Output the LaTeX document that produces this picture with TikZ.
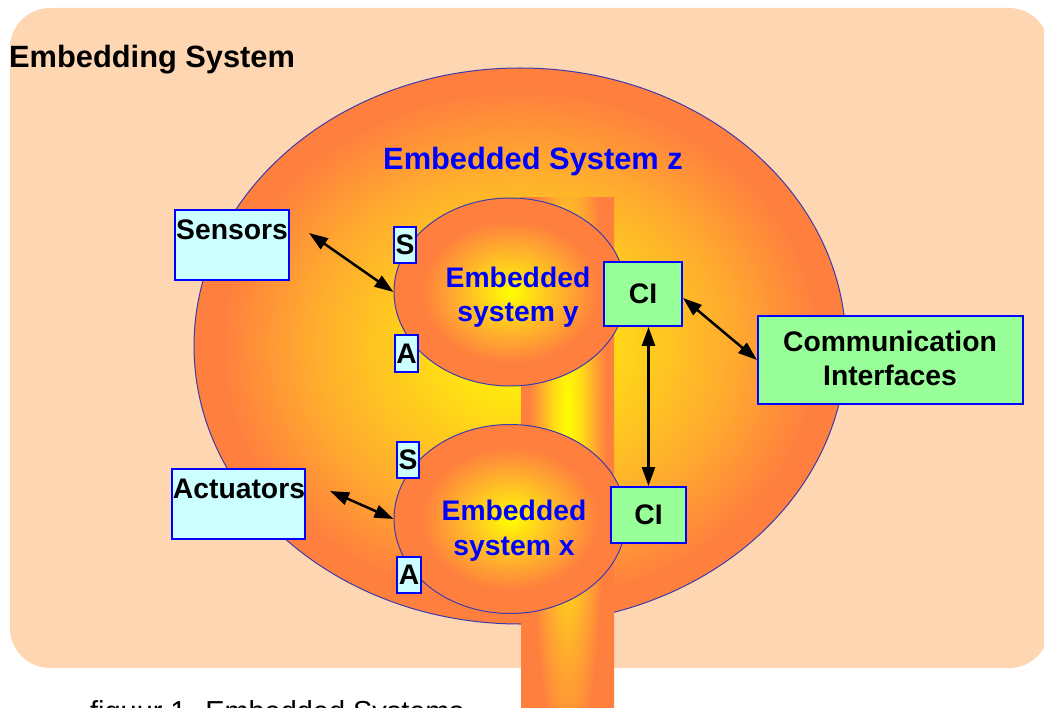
\documentclass[tikz,border=0pt]{standalone}
\usepackage{fontspec}
\setmainfont{Liberation Sans}
\usetikzlibrary{arrows.meta,shapes.geometric}

\definecolor{peach}{RGB}{254,214,178}
\definecolor{hotorange}{RGB}{255,127,62}
\definecolor{midorange}{RGB}{255,172,46}
\definecolor{lightorange}{RGB}{255,212,26}
\definecolor{brightyellow}{RGB}{255,255,0}
\definecolor{rimblue}{RGB}{60,60,170}
\definecolor{boxblue}{RGB}{0,0,255}
\definecolor{paleCyan}{RGB}{204,255,255}
\definecolor{paleGreen}{RGB}{153,255,153}
\definecolor{labelblue}{RGB}{0,0,255}

% glow of the outer system
\pgfdeclareradialshading{zglow}{\pgfpoint{0bp}{0bp}}{%
  color(0bp)=(brightyellow); color(8bp)=(lightorange); color(16bp)=(midorange);
  color(23bp)=(hotorange); color(50bp)=(hotorange)}
% glow of the inner systems
\pgfdeclareradialshading{innerglow}{\pgfpoint{0bp}{0bp}}{%
  color(0bp)=(brightyellow); color(6bp)=(lightorange); color(12bp)=(midorange);
  color(19bp)=(hotorange); color(50bp)=(hotorange)}
% glow of the vertical channel
\pgfdeclareradialshading{columnglow}{\pgfpoint{0bp}{0bp}}{%
  color(0bp)=(brightyellow); color(9bp)=(lightorange); color(14bp)=(midorange);
  color(21bp)=(hotorange); color(50bp)=(hotorange)}

\begin{document}
\begin{tikzpicture}[x=1pt,y=-1pt,
  bigfont/.style={font=\fontsize{30.8}{36}\selectfont\bfseries},
  labfont/.style={font=\fontsize{28.3}{34}\selectfont\bfseries},
  sysbox/.style={draw=boxblue, line width=2pt, fill=paleCyan, inner sep=0pt},
  cibox/.style={draw=boxblue, line width=2pt, fill=paleGreen, inner sep=0pt, labfont},
  portbox/.style={draw=boxblue, line width=1.6pt, fill=paleCyan, inner sep=0pt, labfont},
  subsys/.style={ellipse, draw=rimblue, line width=1pt, shade, shading=innerglow, inner sep=0pt},
  link/.style={line width=2.5pt, {Triangle[length=19pt,width=13pt]}-{Triangle[length=19pt,width=13pt]}},
  txt/.style={inner sep=0pt, anchor=base},
]
\useasboundingbox (0,0) rectangle (1044,708);
\clip (0,0) rectangle (1044,708);

% embedding environment
\fill[peach, rounded corners=40pt] (10,8) rectangle (1049,668);
\node[txt, anchor=base west, bigfont] (title) at (9,68) {Embedding System};

% outer embedded system
\node[ellipse, minimum width=652pt, minimum height=556pt, inner sep=0pt,
      draw=rimblue, line width=1pt, shade, shading=zglow] (esz) at (520,346) {};

% vertical channel
\begin{scope}
  \clip (521,198) rectangle (614,712);
  \shade[shading=columnglow] (521,0) rectangle (614,840);
\end{scope}

% inner systems
\node[subsys, minimum width=232pt, minimum height=188pt] (esy) at (510,292) {};
\node[subsys, minimum width=232pt, minimum height=189pt] (esx) at (510,519) {};

\node[txt, bigfont, text=labelblue] (zname) at (533,170) {Embedded System z};
\node[txt, labfont, text=labelblue] (ylineA) at (518,288) {Embedded};
\node[txt, labfont, text=labelblue] (ylineB) at (518,322) {system y};
\node[txt, labfont, text=labelblue] (xlineA) at (514,520) {Embedded};
\node[txt, labfont, text=labelblue] (xlineB) at (514,555) {system x};

% sensor and actuator ports
\node[portbox, minimum width=22pt, minimum height=36pt] (ys) at (405,245) {S};
\node[portbox, minimum width=23pt, minimum height=37pt] (ya) at (406.5,353.5) {A};
\node[portbox, minimum width=22pt, minimum height=36pt] (xs) at (408,460) {S};
\node[portbox, minimum width=24pt, minimum height=36pt] (xa) at (409,575) {A};

% communication interfaces of the inner systems
\node[cibox, minimum width=78pt, minimum height=64pt] (ciy) at (643,294) {CI};
\node[cibox, minimum width=75pt, minimum height=56pt] (cix) at (648.5,515) {CI};

% external blocks
\node[sysbox, minimum width=114pt, minimum height=70pt] (sensors) at (232,245) {};
\node[txt, labfont] (sensorstxt) at (232,240) {Sensors};
\node[sysbox, minimum width=133pt, minimum height=70pt] (actuators) at (238.5,504) {};
\node[txt, labfont] (actuatorstxt) at (239,498) {Actuators};
\node[sysbox, fill=paleGreen, minimum width=265pt, minimum height=88pt] (comm) at (890.5,360) {};
\node[txt, labfont] (commA) at (890,352) {Communication};
\node[txt, labfont] (commB) at (890,386) {Interfaces};

% connections
\coordinate (sensorsend) at (309,233);
\coordinate (actuatorsend) at (330,491);
\draw[link] (sensorsend) -- (esy.west);
\draw[link] (actuatorsend) -- (esx.west);
\draw[link] ([yshift=-4pt]ciy.east) -- (comm.west);
\draw[link] (ciy.south -| cix.north) -- (cix.north);

% caption
\node[inner sep=0pt, anchor=base west, font=\fontsize{28.9}{34}\selectfont] (caption) at (90,721) {figuur 1. Embedded Systems};
\end{tikzpicture}
\end{document}
